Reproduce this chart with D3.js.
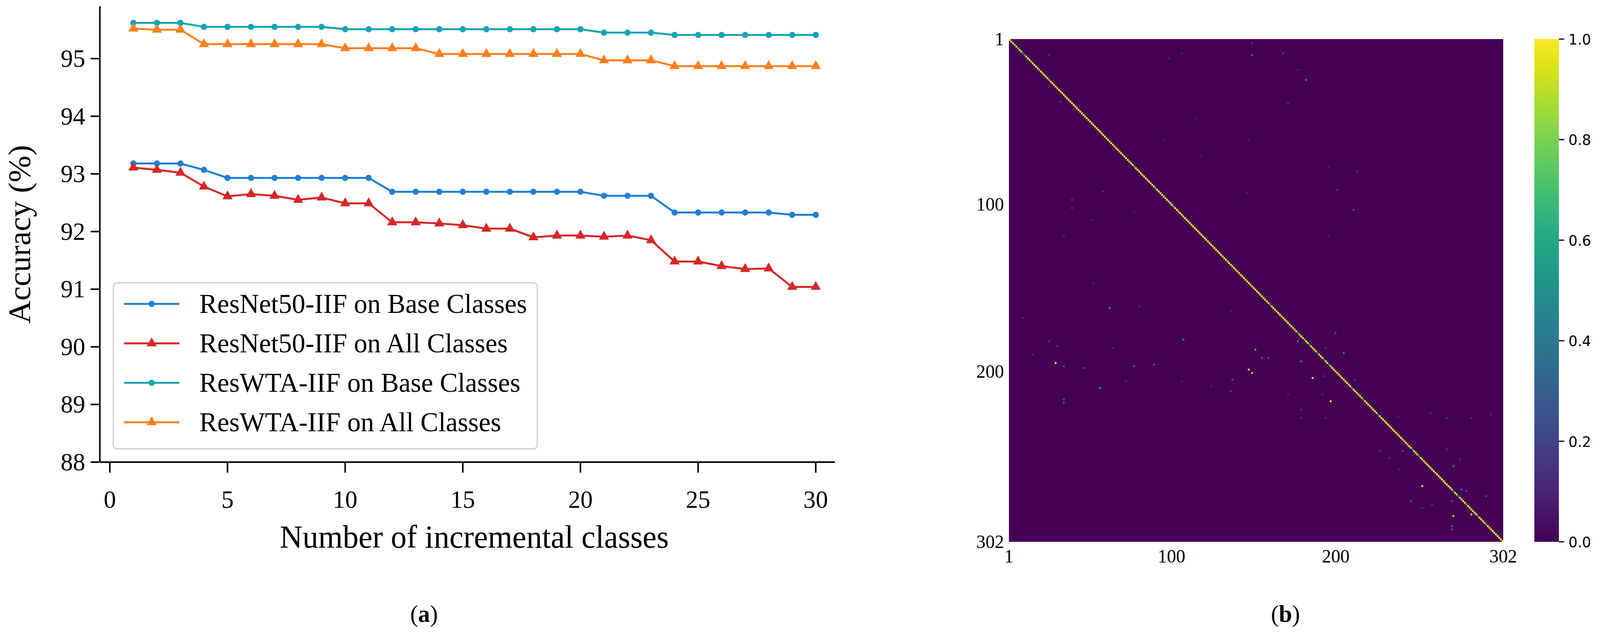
<!DOCTYPE html>
<html><head><meta charset="utf-8">
<script src="https://cdn.jsdelivr.net/npm/d3@7"></script>
<style>html,body{margin:0;background:#fff;overflow:hidden}svg{display:block}</style>
</head><body>
<svg id="c" viewBox="0 0 4166 1623" preserveAspectRatio="none"></svg>
<script>
const xs = d3.range(1,31);
const resnetBase = [93.18,93.18,93.18,93.07,92.93,92.93,92.93,92.93,92.93,92.93,92.93,92.69,92.69,92.69,92.69,92.69,92.69,92.69,92.69,92.69,92.62,92.62,92.62,92.33,92.33,92.33,92.33,92.33,92.29,92.29];
const resnetAll = [93.11,93.07,93.02,92.78,92.61,92.65,92.62,92.55,92.59,92.49,92.49,92.16,92.16,92.14,92.11,92.05,92.05,91.90,91.93,91.93,91.91,91.93,91.85,91.48,91.48,91.40,91.35,91.36,91.04,91.04];
const wtaBase = [95.62,95.62,95.62,95.55,95.55,95.55,95.55,95.55,95.55,95.51,95.51,95.51,95.51,95.51,95.51,95.51,95.51,95.51,95.51,95.51,95.45,95.45,95.45,95.41,95.41,95.41,95.41,95.41,95.41,95.41];
const wtaAll = [95.52,95.50,95.50,95.25,95.25,95.25,95.25,95.25,95.25,95.18,95.18,95.18,95.18,95.08,95.08,95.08,95.08,95.08,95.08,95.08,94.97,94.97,94.97,94.87,94.87,94.87,94.87,94.87,94.87,94.87];
const seriesNames = ["ResNet50-IIF on Base Classes","ResNet50-IIF on All Classes","ResWTA-IIF on Base Classes","ResWTA-IIF on All Classes"];
const seriesColors = ["#1f7fd6","#d62728","#17a3b4","#ff7f1e"];
const seriesMarkers = ["circle","triangle","circle","triangle"];
const xTicks = [0,5,10,15,20,25,30];
const yTicks = [88,89,90,91,92,93,94,95];

// heatmap: diagonal exceptions [index, value]; default diagonal value 1
const N = 302;
const diagExceptions = [[4,0.85],[6,0.8],[9,0.45],[10,0.6],[14,0.85],[19,0.85],[25,0.8],[77,0.7],[90,0.7],[101,0.7],[160,0.6],[177,0.6],[181,0.8],[184,0.6],[189,0.5],[193,0.6],[196,0.6],[210,0.6],[217,0.6],[226,0.5],[247,0.6],[251,0.5],[272,0.55],[275,0.5],[280,0.7],[287,0.6],[292,0.75]];
// off-diagonal cells [row, col, value]
const offDiag = [[195,29,1.0],[199,147,1.0],[201,149,0.9],[204,186,1.0],[218,197,1.0],[269,253,0.95],[287,272,0.9],[286,283,1.0],
[187,151,0.65],[210,56,0.5],[162,62,0.5],[181,107,0.5],[25,182,0.45],[10,149,0.35],[182,177,0.4],[194,179,0.45],[189,205,0.45],[103,211,0.3],
[197,34,0.35],[198,46,0.3],[197,77,0.3],[196,89,0.3],[192,155,0.3],[192,159,0.3],[177,200,0.3],[217,34,0.3],[219,34,0.3],[205,137,0.3],[212,136,0.25],
[257,272,0.45],[271,277,0.4],[278,271,0.3],[272,280,0.3],[293,271,0.3],[295,271,0.3],[248,241,0.3],[278,246,0.25],[275,292,0.25],
[10,25,0.15],[38,32,0.15],[97,39,0.15],[102,39,0.15],[92,58,0.15],[39,171,0.15],[80,213,0.15],[91,201,0.15],[252,233,0.15],[225,258,0.15],[226,295,0.15],[228,283,0.15],[228,268,0.15],[253,276,0.15],[248,227,0.15],
[185,30,0.15],[182,25,0.15],[186,64,0.12],[161,80,0.12],[168,9,0.12],[190,15,0.12],[223,179,0.15],[203,193,0.15],[186,194,0.12],[214,192,0.12],[205,212,0.15],[280,259,0.15],[282,253,0.15],[259,239,0.12],[247,268,0.15],
[9,106,0.1],[9,168,0.2],[3,149,0.2],[12,98,0.1],[19,177,0.1],[48,115,0.1],[71,118,0.1],[61,147,0.1],[61,95,0.1],[93,146,0.1],[77,196,0.12],[119,196,0.1],[119,34,0.12],[109,51,0.12],[104,77,0.1],[147,52,0.1],[164,136,0.12],[206,72,0.12],[206,106,0.1],[209,124,0.1],[214,171,0.12],[228,179,0.12],[228,194,0.12],[227,238,0.1]];
const heatTicks = [1,100,200,302];
const cbTicks = [0,0.2,0.4,0.6,0.8,1.0];

const svg = d3.select("#c").attr("width",window.innerWidth).attr("height",window.innerHeight);
const serif = "'Liberation Serif','Times New Roman',serif";

// ---------- panel (a) ----------
const x = d3.scaleLinear().domain([0,30]).range([286,2124]);
const y = d3.scaleLinear().domain([88,95]).range([1183,150]);
const gA = svg.append("g");
gA.append("line").attr("x1",260).attr("x2",260).attr("y1",16).attr("y2",1183).attr("stroke","#000").attr("stroke-width",4);
gA.append("line").attr("x1",260).attr("x2",2174).attr("y1",1183).attr("y2",1183).attr("stroke","#000").attr("stroke-width",4);
xTicks.forEach(t=>{
  gA.append("line").attr("x1",x(t)).attr("x2",x(t)).attr("y1",1185).attr("y2",1210).attr("stroke","#000").attr("stroke-width",4);
  gA.append("text").attr("x",x(t)).attr("y",1300).attr("text-anchor","middle").attr("font-family",serif).attr("font-size",64).text(t);
});
yTicks.forEach(t=>{
  gA.append("line").attr("x1",236).attr("x2",258).attr("y1",y(t)).attr("y2",y(t)).attr("stroke","#000").attr("stroke-width",4);
  gA.append("text").attr("x",222).attr("y",y(t)+21).attr("text-anchor","end").attr("font-family",serif).attr("font-size",64).text(t);
});
gA.append("text").attr("x",1235).attr("y",1402).attr("text-anchor","middle").attr("font-family",serif).attr("font-size",82).text("Number of incremental classes");
gA.append("text").attr("transform","translate(78,600) rotate(-90)").attr("text-anchor","middle").attr("font-family",serif).attr("font-size",82).text("Accuracy (%)");

const allSeries = [resnetBase,resnetAll,wtaBase,wtaAll];
const line = d3.line().x((d,i)=>x(xs[i])).y(d=>y(d));
const sym = {circle:d3.symbol().type(d3.symbolCircle).size(200), triangle:d3.symbol().type(d3.symbolTriangle).size(300)};
allSeries.forEach((s,k)=>{
  gA.append("path").attr("d",line(s)).attr("fill","none").attr("stroke",seriesColors[k]).attr("stroke-width",5);
  gA.selectAll(null).data(s).enter().append("path").attr("d",sym[seriesMarkers[k]]())
    .attr("transform",(d,i)=>`translate(${x(xs[i])},${y(d)})`).attr("fill",seriesColors[k]);
});
// legend
gA.append("rect").attr("x",295).attr("y",724).attr("width",1104).attr("height",425).attr("rx",10)
  .attr("fill","#fff").attr("fill-opacity",0.8).attr("stroke","#d8d8d8").attr("stroke-width",4);
seriesNames.forEach((n,k)=>{
  const yy = 778 + k*101;
  gA.append("line").attr("x1",323).attr("x2",467).attr("y1",yy).attr("y2",yy).attr("stroke",seriesColors[k]).attr("stroke-width",5);
  gA.append("path").attr("d",sym[seriesMarkers[k]]()).attr("transform",`translate(395,${yy})`).attr("fill",seriesColors[k]);
  gA.append("text").attr("x",519).attr("y",yy+23).attr("font-family",serif).attr("font-size",70).text(n);
});
const capA = gA.append("text").attr("x",1104).attr("y",1592).attr("text-anchor","middle").attr("font-family",serif).attr("font-size",62);
capA.append("tspan").text("(");capA.append("tspan").attr("font-weight","bold").text("a");capA.append("tspan").text(")");

// ---------- panel (b) ----------
const hx0=2627, hx1=3914, hy0=100, hy1=1387;
const bx = d3.scaleBand().domain(d3.range(1,N+1)).range([hx0,hx1]);
const by = d3.scaleBand().domain(d3.range(1,N+1)).range([hy0,hy1]);
const col = d3.scaleSequential(d3.interpolateViridis).domain([0,1]);
const gB = svg.append("g");
gB.append("rect").attr("x",hx0).attr("y",hy0).attr("width",hx1-hx0).attr("height",hy1-hy0).attr("fill",col(0));
const exMap = new Map(diagExceptions);
const cells = d3.range(1,N+1).map(i=>[i,i,exMap.has(i)?exMap.get(i):1]).concat(offDiag);
gB.selectAll(null).data(cells).enter().append("rect")
  .attr("x",d=>bx(d[1])).attr("y",d=>by(d[0])).attr("width",bx.bandwidth()+0.5).attr("height",by.bandwidth()+0.5)
  .attr("fill",d=>col(d[2]));
const tx = d3.scaleLinear().domain([1,302]).range([hx0,hx1]);
const ty = d3.scaleLinear().domain([1,302]).range([hy0,hy1]);
heatTicks.forEach(t=>{
  gB.append("text").attr("x",tx(t)).attr("y",1440).attr("text-anchor","middle").attr("font-family",serif).attr("font-size",48).text(t);
  gB.append("text").attr("x",2614).attr("y",ty(t)+16).attr("text-anchor","end").attr("font-family",serif).attr("font-size",48).text(t);
});
// colorbar
const defs = svg.append("defs");
const grad = defs.append("linearGradient").attr("id","vir").attr("x1",0).attr("y1",1).attr("x2",0).attr("y2",0);
d3.range(0,1.0001,0.05).forEach(v=>grad.append("stop").attr("offset",v).attr("stop-color",col(v)));
const cy = d3.scaleLinear().domain([0,1]).range([hy1,hy0]);
gB.append("rect").attr("x",3995).attr("y",hy0).attr("width",64).attr("height",hy1-hy0).attr("fill","url(#vir)");
cbTicks.forEach(t=>{
  gB.append("line").attr("x1",4059).attr("x2",4073).attr("y1",cy(t)).attr("y2",cy(t)).attr("stroke","#000").attr("stroke-width",3);
  gB.append("text").attr("x",4084).attr("y",cy(t)+14).attr("font-family","'DejaVu Sans',sans-serif").attr("font-size",37).text(t.toFixed(1));
});
const capB = gB.append("text").attr("x",3347).attr("y",1592).attr("text-anchor","middle").attr("font-family",serif).attr("font-size",62);
capB.append("tspan").text("(");capB.append("tspan").attr("font-weight","bold").text("b");capB.append("tspan").text(")");
</script>
</body></html>
